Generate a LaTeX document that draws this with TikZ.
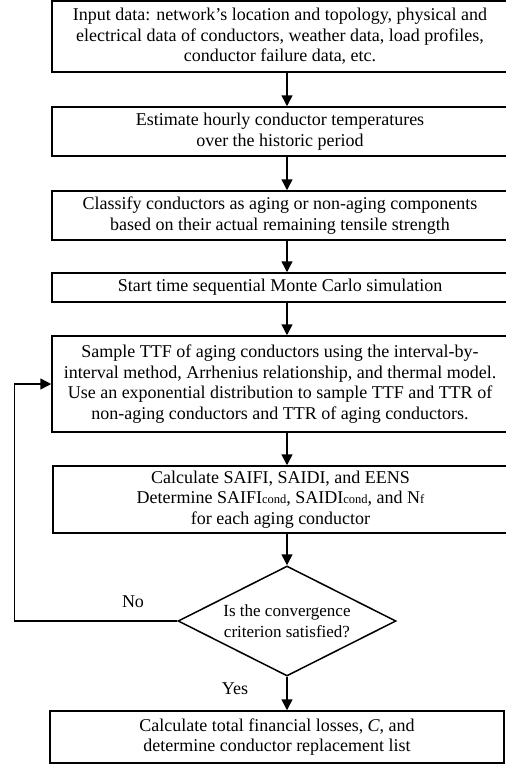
\documentclass[tikz,border=0pt]{standalone}
\usepackage{fontspec}
\setmainfont{Liberation Serif}
\usetikzlibrary{arrows.meta,shapes.geometric,positioning}
\newcommand{\sm}[1]{{\fontsize{12.5}{12.5}\selectfont #1}}

\begin{document}
\begin{tikzpicture}[x=1pt,y=1pt,>={Triangle[length=11pt,width=11pt]},line width=1.5pt,
box/.style={draw, rectangle, align=center, inner sep=0pt, minimum width=456pt,
  font=\fontsize{18}{20.5}\selectfont},
dec/.style={draw, diamond, align=center, inner sep=0pt, shape aspect=1.98,
  minimum width=218pt, minimum height=110pt, font=\fontsize{17}{20.5}\selectfont},
lbl/.style={font=\fontsize{18}{20.5}\selectfont}]
\useasboundingbox (0,0) rectangle (506,-766);
% process steps
\node[box, minimum height=71pt] (inp) at (280,-36.5) {Input data: network’s location and topology, physical and\\
  electrical data of conductors, weather data, load profiles,\\ conductor failure data, etc.};
\node[box, minimum height=49pt] (temp) at (280,-131.5) {Estimate hourly conductor temperatures\\ over the historic period};
\node[box, minimum height=49pt] (clas) at (280,-215.5) {Classify conductors as aging or non-aging components\\
  based on their actual remaining tensile strength};
\node[box, minimum height=29pt] (mcs) at (280,-287.5) {Start time sequential Monte Carlo simulation};
\node[box, minimum height=96pt] (ttf) at (280,-384) {Sample TTF of aging conductors using the interval-by-\\
  interval method, Arrhenius relationship, and thermal model.\\
  Use an exponential distribution to sample TTF and TTR of\\ non-aging conductors and TTR of aging conductors.};
\node[box, minimum width=455pt, minimum height=67pt] (rel) at (280.5,-499.5) {Calculate SAIFI, SAIDI, and EENS\\
  Determine SAIFI\sm{cond}, SAIDI\sm{cond}, and N\sm{f}\\ for each aging conductor};
\node[dec] (conv) at (287,-621) {Is the convergence\\ criterion satisfied?};
\node[box, minimum width=454pt, minimum height=52pt] (cost) at (277,-737) {Calculate total financial losses, \textit{C}, and\\
  determine conductor replacement list};
\node[lbl] (no) at (133,-602) {No};
\node[lbl] (yes) at (235,-689) {Yes};
% connectors
\draw[->] (inp.south -| conv) -- (temp.north -| conv);
\draw[->] (temp.south -| conv) -- (clas.north -| conv);
\draw[->] (clas.south -| conv) -- (mcs.north -| conv);
\draw[->] (mcs.south -| conv) -- (ttf.north -| conv);
\draw[->] (ttf.south -| conv) -- (rel.north -| conv);
\draw[->] (rel.south -| conv) -- (conv.north);
\draw[->] (conv.south) -- (cost.north -| conv);
\draw[->] (conv.west) -| ([xshift=-37pt]ttf.west) -- (ttf.west);
\end{tikzpicture}
\end{document}
